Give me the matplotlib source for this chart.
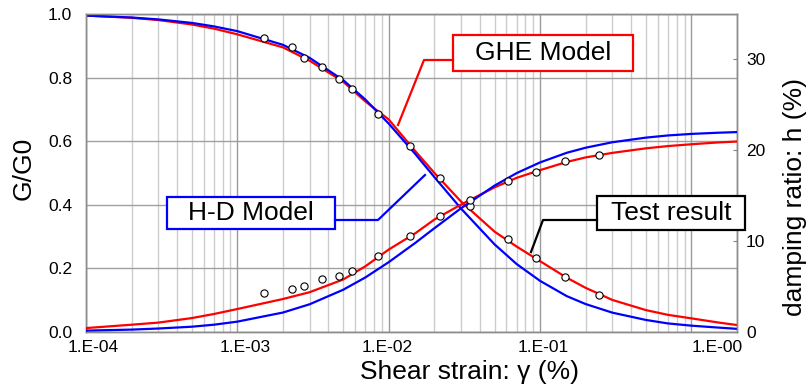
import matplotlib
matplotlib.use("Agg")
import matplotlib.pyplot as plt
from matplotlib.ticker import FixedLocator, NullFormatter
from matplotlib.patches import Rectangle
from matplotlib.lines import Line2D

plt.rcParams['font.family'] = ['Liberation Sans', 'DejaVu Sans']

# ---- data -------------------------------------------------------------
# shear strain (%) at which the model curves are drawn
strain = [1e-4, 2e-4, 3e-4, 5e-4, 7e-4, 1e-3, 2e-3, 3e-3, 5e-3, 7e-3,
          1e-2, 1.5e-2, 2e-2, 3e-2, 5e-2, 7e-2, 1e-1, 1.5e-1, 2e-1, 3e-1,
          5e-1, 7e-1, 1.0, 1.5, 2.0]

# GHE model: G/G0 and damping ratio h (%)
ghe_g = [0.995, 0.988, 0.981, 0.967, 0.954, 0.936, 0.895, 0.853, 0.787, 0.725,
         0.668, 0.568, 0.500, 0.410, 0.315, 0.268, 0.222, 0.170, 0.138, 0.100,
         0.068, 0.053, 0.042, 0.029, 0.021]
ghe_h = [0.40, 0.77, 1.00, 1.50, 1.95, 2.50, 3.60, 4.35, 5.75, 7.20,
         9.05, 10.85, 12.35, 14.00, 15.90, 16.95, 17.80, 18.70, 19.20, 19.70,
         20.20, 20.45, 20.65, 20.85, 20.95]

# H-D model: G/G0 and damping ratio h (%)
hd_g = [0.995, 0.989, 0.983, 0.972, 0.961, 0.946, 0.903, 0.862, 0.792, 0.731,
        0.655, 0.559, 0.487, 0.388, 0.275, 0.213, 0.160, 0.112, 0.087, 0.060,
        0.037, 0.026, 0.019, 0.013, 0.009]
hd_h = [0.12, 0.23, 0.35, 0.55, 0.77, 1.11, 2.11, 3.02, 4.62, 5.97,
        7.66, 9.79, 11.39, 13.59, 16.09, 17.47, 18.65, 19.71, 20.27, 20.87,
        21.38, 21.62, 21.79, 21.92, 21.99]

# laboratory test results
test_strain = [1.49e-3, 2.28e-3, 2.74e-3, 3.6e-3, 4.67e-3, 5.69e-3, 8.45e-3,
               1.38e-2, 2.18e-2, 3.44e-2, 6.13e-2, 9.4e-2, 1.47e-1, 2.46e-1]
test_g = [0.926, 0.897, 0.863, 0.832, 0.794, 0.763, 0.684,
          0.583, 0.483, 0.395, 0.291, 0.231, 0.172, 0.115]
test_h = [4.30, 4.74, 5.07, 5.84, 6.17, 6.72, 8.38,
          10.50, 12.70, 14.55, 16.65, 17.60, 18.85, 19.50]

decades = [1e-4, 1e-3, 1e-2, 1e-1, 1e0]
x_labels = ['1.E-04', '1.E-03', '1.E-02', '1.E-01', '1.E-00']
g_ticks = [0.0, 0.2, 0.4, 0.6, 0.8, 1.0]
g_labels = ['0.0', '0.2', '0.4', '0.6', '0.8', '1.0']
h_ticks = [0, 10, 20, 30]

# horizontal nudge of each decade label, in pixels
x_label_nudge = [7, 7.5, -1.5, 3.5, 26]

# ---- figure -----------------------------------------------------------
W, H = 809, 388
fig = plt.figure(figsize=(W / 100, H / 100), dpi=100)
L, R, T, B = 86, 737, 14, 331.7
ax = fig.add_axes([L / W, 1 - B / H, (R - L) / W, (B - T) / H])

ax.set_xscale('log')
ax.set_xlim(1e-4, 2.0)
ax.set_ylim(0, 1.0)
ax.set_axisbelow(True)

px_per_decade = (R - L) / 4.301
label_pos = [d * 10 ** (n / px_per_decade) for d, n in zip(decades, x_label_nudge)]
ax.xaxis.set_major_locator(FixedLocator(label_pos))
ax.set_xticklabels(x_labels)
minor = [m * 10 ** e for e in range(-4, 1) for m in range(2, 10)]
ax.xaxis.set_minor_locator(FixedLocator(minor))
ax.xaxis.set_minor_formatter(NullFormatter())
ax.grid(True, which='minor', axis='x', color='#cccccc', lw=1.0)
ax.vlines(decades, 0, 1, transform=ax.get_xaxis_transform(),
          color='#9a9a9a', lw=1.0, zorder=0.8)

ax.set_yticks(g_ticks)
ax.set_yticklabels(g_labels)
ax.grid(True, which='major', axis='y', color='#a0a0a0', lw=1.0)
ax.grid(False, which='major', axis='x')

ax.tick_params(axis='x', which='both', length=0, pad=6, labelsize=12.5)
ax.tick_params(axis='y', length=0, pad=10, labelsize=12.5)

for s in ax.spines.values():
    s.set_color('#8c8c8c')
    s.set_linewidth(1.0)

# G/G0 curves
ax.plot(strain, ghe_g, color='#ff0000', lw=1.6, zorder=3)
ax.plot(strain, hd_g, color='#0000ff', lw=1.6, zorder=3)
ax.plot(test_strain, test_g, linestyle='none', marker='o', ms=5.2,
        mfc='white', mec='black', mew=0.8, zorder=4)

ax.set_ylabel('G/G0', fontsize=19)
ax.yaxis.label.set_va('center')
ax.yaxis.set_label_coords((24 - L) / (R - L), 0.513)
ax.set_xlabel('Shear strain: γ (%)', fontsize=19)
ax.xaxis.label.set_va('center')
ax.xaxis.set_label_coords((470 - L) / (R - L), (B - 372.5) / (B - T))

# damping axis
ax2 = ax.twinx()
ax2.set_ylim(0, 35)
ax2.set_yticks(h_ticks)
ax2.tick_params(axis='y', direction='in', length=3, color='#808080',
                pad=6.5, labelsize=12.5)
for s in ax2.spines.values():
    s.set_color('#8c8c8c')
    s.set_linewidth(1.0)

ax2.plot(strain, ghe_h, color='#ff0000', lw=1.6, zorder=3)
ax2.plot(strain, hd_h, color='#0000ff', lw=1.6, zorder=3)
ax2.plot(test_strain, test_h, linestyle='none', marker='o', ms=5.2,
         mfc='white', mec='black', mew=0.8, zorder=4)

ax2.set_ylabel('damping ratio: h (%)', fontsize=19, rotation=90)
ax2.yaxis.label.set_va('center')
ax2.yaxis.set_label_coords((795 - L) / (R - L), (B - 196.5) / (B - T))


# ---- call-out boxes ---------------------------------------------------
def fx(px):
    return (px - L) / (R - L)


def fy(py):
    return (B - py) / (B - T)


def callout(text, box, leader, color):
    x0, y0, x1, y1 = box
    ax2.add_patch(Rectangle((fx(x0), fy(y1)), fx(x1) - fx(x0), fy(y0) - fy(y1),
                            transform=ax2.transAxes, facecolor='white',
                            edgecolor=color, lw=1.6, clip_on=False, zorder=6))
    ax2.text(fx((x0 + x1) / 2), fy((y0 + y1) / 2), text, transform=ax2.transAxes,
             ha='center', va='center', fontsize=19, color='black', zorder=7,
             clip_on=False)
    xs = [fx(p[0]) for p in leader]
    ys = [fy(p[1]) for p in leader]
    ax2.add_line(Line2D(xs, ys, transform=ax2.transAxes, color=color, lw=1.6,
                        zorder=6, clip_on=False))


callout('GHE Model', (453, 35, 633, 71),
        [(453, 60), (424, 60), (398, 125)], '#ff0000')
callout('H-D Model', (167, 197, 335, 229),
        [(335, 220), (378, 220), (425, 175)], '#0000ff')
callout('Test result', (597, 196, 745, 230),
        [(597, 220), (543, 220), (531, 252)], '#000000')

fig.savefig('out.png', dpi=100)
